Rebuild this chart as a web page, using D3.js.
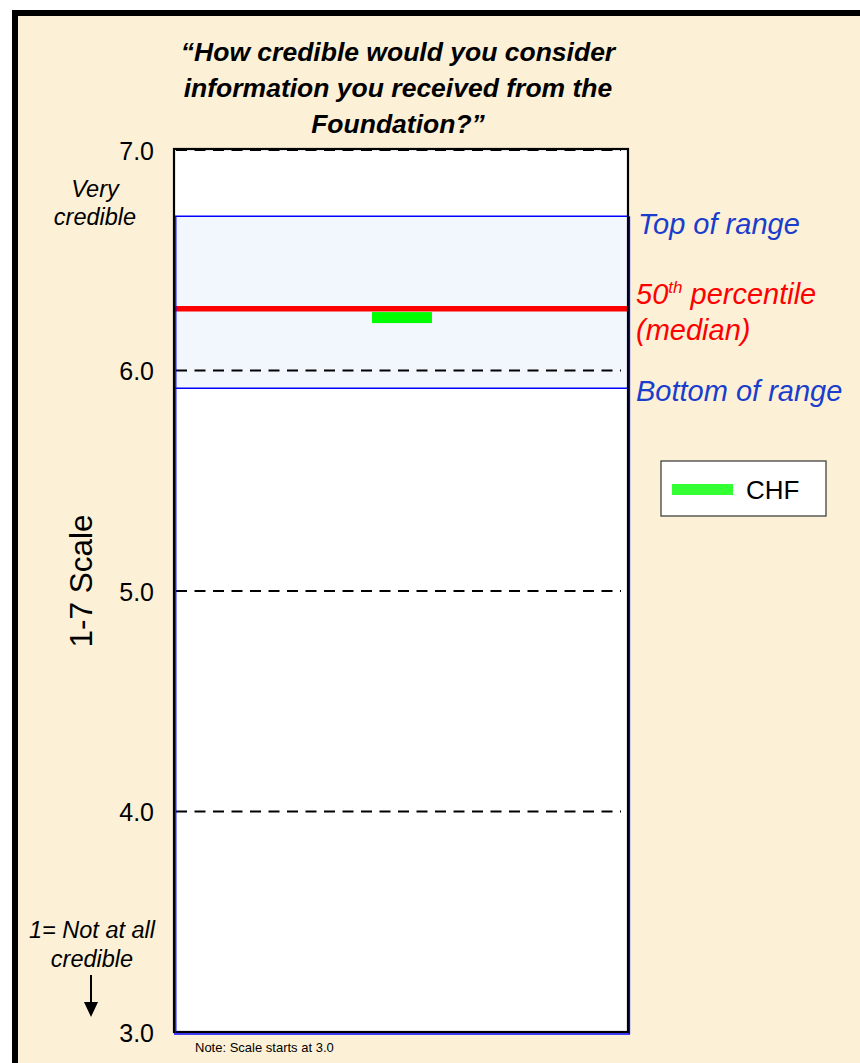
<!DOCTYPE html>
<html>
<head>
<meta charset="utf-8">
<script src="https://cdn.jsdelivr.net/npm/d3@7"></script>
<style>
  html, body { margin: 0; padding: 0; background: #ffffff; }
  svg { display: block; font-family: Arial, "Liberation Sans", sans-serif; }
</style>
</head>
<body>
<svg id="chart" width="860" height="1063"></svg>
<script>
// Survey question and scale
const titleLines = ["\u201cHow credible would you consider", "information you received from the", "Foundation?\u201d"];
const yDomain = [3, 7];
const tickValues = [3, 4, 5, 6, 7];
const tickLabels = ["3.0", "4.0", "5.0", "6.0", "7.0"];

// Comparative range across funders
const rangeTop = 6.70;
const rangeBottom = 5.92;
const median = 6.28;

// Foundation's own rating
const seriesNames = ["CHF"];
const seriesValues = [6.24];

const svg = d3.select("#chart");
const W = 860, H = 1063;

// Panel background and heavy outer frame
svg.append("rect").attr("x", 15).attr("y", 13).attr("width", W + 40).attr("height", H + 40)
  .attr("fill", "#fcf1d7").attr("stroke", "#000").attr("stroke-width", 6);

const plot = { left: 174, right: 628, top: 150, bottom: 1032 };
const y = d3.scaleLinear().domain(yDomain).range([plot.bottom, plot.top]);
const x = d3.scaleBand().domain(seriesNames).range([plot.left, plot.right]).paddingInner(0).paddingOuter(0);

// Plot area
svg.append("rect").attr("x", plot.left).attr("y", plot.top)
  .attr("width", plot.right - plot.left).attr("height", plot.bottom - plot.top)
  .attr("fill", "#ffffff");

// Shaded band of the range
svg.append("rect").attr("x", plot.left).attr("y", y(rangeTop))
  .attr("width", plot.right - plot.left).attr("height", y(rangeBottom) - y(rangeTop))
  .attr("fill", "#f2f6fd");

// Dashed gridlines
svg.append("g").selectAll("line").data(tickValues).join("line")
  .attr("x1", plot.left + 2).attr("x2", plot.right - 7)
  .attr("y1", d => y(d)).attr("y2", d => y(d))
  .attr("stroke", "#000").attr("stroke-width", 2).attr("stroke-dasharray", "11,7.5");

// Blue range lines
svg.append("g").selectAll("line").data([rangeTop, rangeBottom]).join("line")
  .attr("x1", plot.left).attr("x2", plot.right)
  .attr("y1", d => y(d)).attr("y2", d => y(d))
  .attr("stroke", "#0000ff").attr("stroke-width", 1.5);

// Median line
svg.append("line").attr("x1", plot.left - 1).attr("x2", plot.right + 1)
  .attr("y1", y(median)).attr("y2", y(median))
  .attr("stroke", "#ff0000").attr("stroke-width", 5.5);

// Foundation marker
const markerW = 60, markerH = 11;
svg.append("g").selectAll("rect").data(seriesValues).join("rect")
  .attr("x", (d, i) => x(seriesNames[i]) + x.bandwidth() / 2 - markerW / 2 + 1)
  .attr("y", d => y(d) - markerH / 2)
  .attr("width", markerW).attr("height", markerH)
  .attr("fill", "#00ff00");

// Frame: black outline with blue inner edges
svg.append("rect").attr("x", plot.left).attr("y", plot.top - 1)
  .attr("width", plot.right - plot.left).attr("height", plot.bottom - plot.top + 1)
  .attr("fill", "none").attr("stroke", "#000").attr("stroke-width", 2.2);
svg.append("line").attr("x1", plot.left + 1.8).attr("x2", plot.left + 1.8)
  .attr("y1", y(rangeTop)).attr("y2", plot.bottom + 1).attr("stroke", "#0000ff").attr("stroke-width", 1.3);
svg.append("line").attr("x1", plot.right + 1.5).attr("x2", plot.right + 1.5)
  .attr("y1", y(rangeTop)).attr("y2", plot.bottom + 2).attr("stroke", "#0000ff").attr("stroke-width", 1.3);
svg.append("line").attr("x1", plot.left).attr("x2", plot.right + 2)
  .attr("y1", plot.bottom + 2).attr("y2", plot.bottom + 2).attr("stroke", "#0000ff").attr("stroke-width", 1.3);

// Y axis tick labels
const yAxis = d3.axisLeft(y).tickValues(tickValues).tickFormat((d, i) => tickLabels[i]).tickSize(0).tickPadding(0);
const gAxis = svg.append("g").attr("transform", `translate(${plot.left - 20},0)`).call(yAxis);
gAxis.select(".domain").remove();
gAxis.selectAll("text").attr("font-size", 25).attr("fill", "#000")
  .attr("font-family", "Arial, 'Liberation Sans', sans-serif").attr("dy", "0.36em");

// Title
svg.append("text").attr("text-anchor", "middle").attr("font-size", 26.5)
  .attr("font-weight", "bold").attr("font-style", "italic").attr("fill", "#000")
  .selectAll("tspan").data(titleLines).join("tspan")
  .attr("x", 398).attr("y", (d, i) => 61 + i * 36).text(d => d);

// Axis title
svg.append("text").attr("transform", "translate(92,581) rotate(-90)")
  .attr("text-anchor", "middle").attr("font-size", 31.5).attr("fill", "#000").text("1-7 Scale");

// Scale end annotations
const anno = svg.append("g").attr("font-size", 23.5).attr("font-style", "italic")
  .attr("fill", "#000").attr("text-anchor", "middle");
anno.append("text").attr("x", 95).attr("y", 197).text("Very");
anno.append("text").attr("x", 95).attr("y", 225).text("credible");
anno.append("text").attr("x", 92).attr("y", 938).text("1= Not at all");
anno.append("text").attr("x", 92).attr("y", 967).text("credible");

// Down arrow
svg.append("line").attr("x1", 91).attr("x2", 91).attr("y1", 975).attr("y2", 1003)
  .attr("stroke", "#000").attr("stroke-width", 2);
svg.append("path").attr("d", "M84,1002 L98,1002 L91,1017 Z").attr("fill", "#000");

// Right-side labels
const lab = svg.append("g").attr("font-size", 29).attr("font-style", "italic");
lab.append("text").attr("x", 638).attr("y", 234).attr("fill", "#1a3dcc").text("Top of range");
const med = lab.append("text").attr("x", 636).attr("y", 304).attr("fill", "#ff0000");
med.append("tspan").text("50");
med.append("tspan").attr("font-size", 17).attr("dy", -11).text("th");
med.append("tspan").attr("dy", 11).text(" percentile");
lab.append("text").attr("x", 636).attr("y", 340).attr("fill", "#ff0000").text("(median)");
lab.append("text").attr("x", 636).attr("y", 401).attr("fill", "#1a3dcc").text("Bottom of range");

// Legend
const leg = svg.append("g");
leg.append("rect").attr("x", 661).attr("y", 461).attr("width", 165).attr("height", 55)
  .attr("fill", "#fff").attr("stroke", "#333").attr("stroke-width", 1.2);
leg.selectAll(".sw").data(seriesNames).join("rect").attr("class", "sw")
  .attr("x", 672).attr("y", 484).attr("width", 61).attr("height", 11).attr("fill", "#33ff33");
leg.selectAll(".lt").data(seriesNames).join("text").attr("class", "lt")
  .attr("x", 746).attr("y", 499).attr("font-size", 26).attr("fill", "#000").text(d => d);

// Note
svg.append("text").attr("x", 195).attr("y", 1052).attr("font-size", 13).attr("fill", "#000")
  .text("Note: Scale starts at 3.0");
</script>
</body>
</html>
